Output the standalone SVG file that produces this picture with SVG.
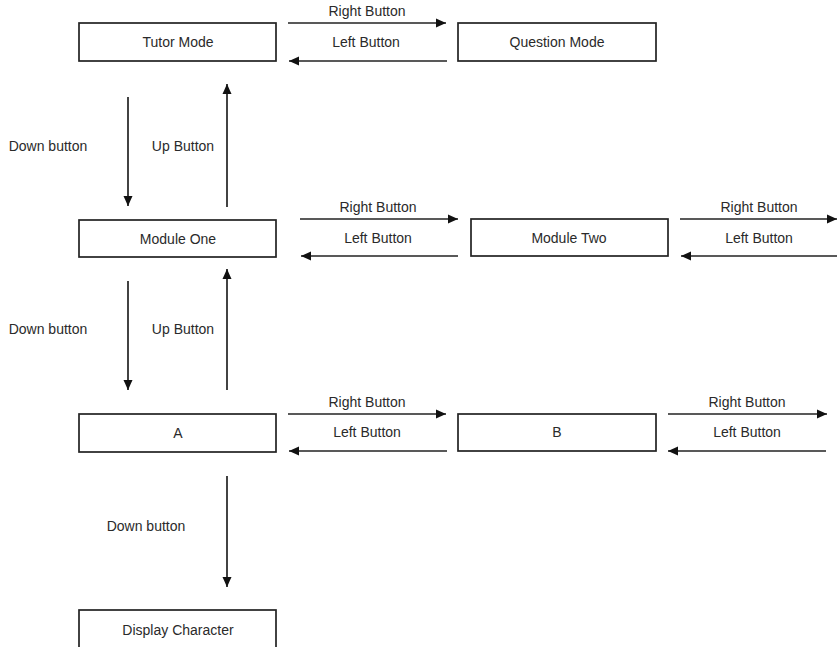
<svg xmlns="http://www.w3.org/2000/svg" width="837" height="647" viewBox="0 0 837 647">
<defs>
<marker id="ah" viewBox="0 0 10 10" refX="10" refY="5" markerWidth="10" markerHeight="10" markerUnits="userSpaceOnUse" orient="auto">
<path d="M0,0.5 L10,5 L0,9.5 Z" fill="#111"/>
</marker>
</defs>
<style>
.box{fill:#fff;stroke:#222;stroke-width:1.7}
.t{font-family:"Liberation Sans",Arial,sans-serif;font-size:14px;fill:#2a2a2a;text-anchor:middle}
.c{stroke:#222;stroke-width:1.7;fill:none;marker-end:url(#ah)}
</style>
<rect width="837" height="647" fill="#fff"/>
<g id="tutor-mode"><rect class="box" x="79" y="23" width="197" height="38"/><text class="t" x="178" y="47">Tutor Mode</text></g>
<g id="question-mode"><rect class="box" x="458" y="23" width="198" height="38"/><text class="t" x="557" y="47">Question Mode</text></g>
<g id="module-one"><rect class="box" x="79" y="220" width="197" height="37"/><text class="t" x="178" y="244">Module One</text></g>
<g id="module-two"><rect class="box" x="471" y="219" width="197" height="37"/><text class="t" x="569" y="243">Module Two</text></g>
<g id="a"><rect class="box" x="79" y="414" width="197" height="38"/><text class="t" x="178" y="438">A</text></g>
<g id="b"><rect class="box" x="458" y="414" width="198" height="37"/><text class="t" x="557" y="437">B</text></g>
<g id="display-character"><rect class="box" x="79" y="610" width="197" height="42"/><text class="t" x="178" y="635">Display Character</text></g>
<g id="connectors">
<line class="c" x1="288" y1="23" x2="446" y2="23"/>
<line class="c" x1="447" y1="61" x2="289" y2="61"/>
<line class="c" x1="128" y1="97" x2="128" y2="206"/>
<line class="c" x1="227" y1="207" x2="227" y2="84"/>
<line class="c" x1="300" y1="219" x2="458" y2="219"/>
<line class="c" x1="458" y1="256" x2="301" y2="256"/>
<line class="c" x1="680" y1="219" x2="837" y2="219"/>
<line class="c" x1="840" y1="256" x2="681" y2="256"/>
<line class="c" x1="128" y1="281" x2="128" y2="390"/>
<line class="c" x1="227" y1="390" x2="227" y2="269"/>
<line class="c" x1="288" y1="414" x2="446" y2="414"/>
<line class="c" x1="447" y1="451" x2="289" y2="451"/>
<line class="c" x1="668" y1="414" x2="827" y2="414"/>
<line class="c" x1="826" y1="451" x2="668" y2="451"/>
<line class="c" x1="227" y1="476" x2="227" y2="587"/>
</g>
<g id="labels">
<text class="t" x="367" y="16">Right Button</text>
<text class="t" x="366" y="47">Left Button</text>
<text class="t" x="48" y="151">Down button</text>
<text class="t" x="183" y="151">Up Button</text>
<text class="t" x="378" y="212">Right Button</text>
<text class="t" x="378" y="243">Left Button</text>
<text class="t" x="759" y="212">Right Button</text>
<text class="t" x="759" y="243">Left Button</text>
<text class="t" x="48" y="334">Down button</text>
<text class="t" x="183" y="334">Up Button</text>
<text class="t" x="367" y="407">Right Button</text>
<text class="t" x="367" y="437">Left Button</text>
<text class="t" x="747" y="407">Right Button</text>
<text class="t" x="747" y="437">Left Button</text>
<text class="t" x="146" y="531">Down button</text>
</g>
</svg>
